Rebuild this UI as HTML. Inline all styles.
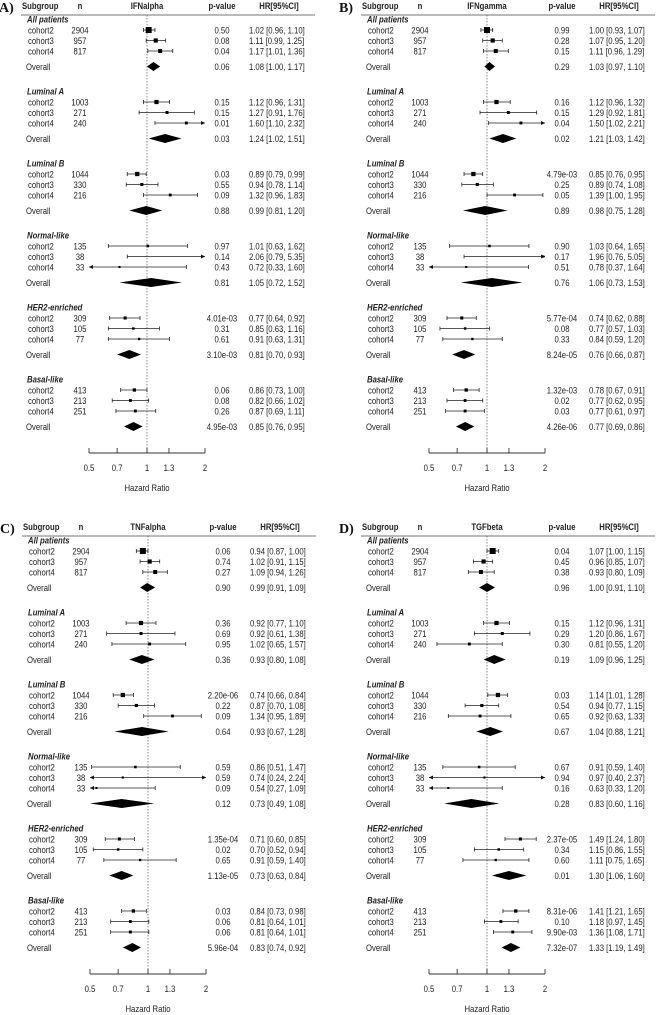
<!DOCTYPE html>
<html><head><meta charset="utf-8">
<style>
html,body{margin:0;padding:0;background:#fff;}
svg{display:block;font-family:"Liberation Sans",Arial,sans-serif;}
</style></head>
<body>
<svg id="fig" width="656" height="1015" viewBox="0 0 656 1015"></svg>
<script>
// shared data
const groups = ["All patients","Luminal A","Luminal B","Normal-like","HER2-enriched","Basal-like"];
const cohorts = ["cohort2","cohort3","cohort4"];
const nVals = [[2904,957,817],[1003,271,240],[1044,330,216],[135,38,33],[309,105,77],[413,213,251]];
const axisTicks = [0.5,0.7,1,1.3,2];
const axisTickLabels = ["0.5","0.7","1","1.3","2"];

// Panel A: IFNalpha (per group: cohort2, cohort3, cohort4, overall)
const hrA = [[1.02,1.11,1.17,1.08],[1.12,1.27,1.60,1.24],[0.89,0.94,1.32,0.99],[1.01,2.06,0.72,1.05],[0.77,0.85,0.91,0.81],[0.86,0.82,0.87,0.85]];
const loA = [[0.96,0.99,1.01,1.00],[0.96,0.91,1.10,1.02],[0.79,0.78,0.96,0.81],[0.63,0.79,0.33,0.72],[0.64,0.63,0.63,0.70],[0.73,0.66,0.69,0.76]];
const hiA = [[1.10,1.25,1.36,1.17],[1.31,1.76,2.32,1.51],[0.99,1.14,1.83,1.20],[1.62,5.35,1.60,1.52],[0.92,1.16,1.31,0.93],[1.00,1.02,1.11,0.95]];
const pA = [["0.50","0.08","0.04","0.06"],["0.15","0.15","0.01","0.03"],["0.03","0.55","0.09","0.88"],["0.97","0.14","0.43","0.81"],["4.01e-03","0.31","0.61","3.10e-03"],["0.06","0.08","0.26","4.95e-03"]];

// Panel B: IFNgamma
const hrB = [[1.00,1.07,1.11,1.03],[1.12,1.29,1.50,1.21],[0.85,0.89,1.39,0.98],[1.03,1.96,0.78,1.06],[0.74,0.77,0.84,0.76],[0.78,0.77,0.77,0.77]];
const loB = [[0.93,0.95,0.96,0.97],[0.96,0.92,1.02,1.03],[0.76,0.74,1.00,0.75],[0.64,0.76,0.37,0.73],[0.62,0.57,0.59,0.66],[0.67,0.62,0.61,0.69]];
const hiB = [[1.07,1.20,1.29,1.10],[1.32,1.81,2.21,1.42],[0.95,1.08,1.95,1.28],[1.65,5.05,1.64,1.53],[0.88,1.03,1.20,0.87],[0.91,0.95,0.97,0.86]];
const pB = [["0.99","0.28","0.15","0.29"],["0.16","0.15","0.04","0.02"],["4.79e-03","0.25","0.05","0.89"],["0.90","0.17","0.51","0.76"],["5.77e-04","0.08","0.33","8.24e-05"],["1.32e-03","0.02","0.03","4.26e-06"]];

// Panel C: TNFalpha
const hrC = [[0.94,1.02,1.09,0.99],[0.92,0.92,1.02,0.93],[0.74,0.87,1.34,0.93],[0.86,0.74,0.54,0.73],[0.71,0.70,0.91,0.73],[0.84,0.81,0.81,0.83]];
const loC = [[0.87,0.91,0.94,0.91],[0.77,0.61,0.65,0.80],[0.66,0.70,0.95,0.67],[0.51,0.24,0.27,0.49],[0.60,0.52,0.59,0.63],[0.73,0.64,0.64,0.74]];
const hiC = [[1.00,1.15,1.26,1.09],[1.10,1.38,1.57,1.08],[0.84,1.08,1.89,1.28],[1.47,2.24,1.09,1.08],[0.85,0.94,1.40,0.84],[0.98,1.01,1.01,0.92]];
const pC = [["0.06","0.74","0.27","0.90"],["0.36","0.69","0.95","0.36"],["2.20e-06","0.22","0.09","0.64"],["0.59","0.59","0.09","0.12"],["1.35e-04","0.02","0.65","1.13e-05"],["0.03","0.06","0.06","5.96e-04"]];

// Panel D: TGFbeta
const hrD = [[1.07,0.96,0.93,1.00],[1.12,1.20,0.81,1.09],[1.14,0.94,0.92,1.04],[0.91,0.97,0.63,0.83],[1.49,1.15,1.11,1.30],[1.41,1.18,1.36,1.33]];
const loD = [[1.00,0.85,0.80,0.91],[0.96,0.86,0.55,0.96],[1.01,0.77,0.63,0.88],[0.59,0.40,0.33,0.60],[1.24,0.86,0.75,1.06],[1.21,0.97,1.08,1.19]];
const hiD = [[1.15,1.07,1.09,1.10],[1.31,1.67,1.20,1.25],[1.28,1.15,1.33,1.21],[1.40,2.37,1.20,1.16],[1.80,1.55,1.65,1.60],[1.65,1.45,1.71,1.49]];
const pD = [["0.04","0.45","0.38","0.96"],["0.15","0.29","0.30","0.19"],["0.03","0.54","0.65","0.67"],["0.67","0.94","0.16","0.28"],["2.37e-05","0.34","0.60","0.01"],["8.31e-06","0.10","9.90e-03","7.32e-07"]];

const NS = "http://www.w3.org/2000/svg";
const svg = document.getElementById("fig");
const SQUEEZE = 0.84;
function mk(tag, attrs, parent){
  const e = document.createElementNS(NS, tag);
  for (const k in attrs) e.setAttribute(k, attrs[k]);
  (parent||svg).appendChild(e);
  return e;
}
function txt(parent, x, y, s, opts, noSqueeze){
  const t = mk("text", Object.assign({x:x, y:y, "font-size":9.2, fill:"#222"}, opts||{}), parent);
  t.textContent = s;
  if (!noSqueeze){
    const L = t.getComputedTextLength();
    if (L > 0){
      t.setAttribute("textLength", (L * SQUEEZE).toFixed(2));
      t.setAttribute("lengthAdjust", "spacingAndGlyphs");
    }
  }
  return t;
}
const XMIN = 0.5, XMAX = 2;
function xs(v){ return 147 + Math.log(v) * 83.7; }

function panel(label, title, hr, lo, hi, pv, dx, dy){
  const g = mk("g", {transform:"translate("+dx+","+dy+")"});
  
  
  const pl = txt(g, -1, 12, label, {"font-size":14, "font-weight":"bold", "font-family":"Liberation Serif, serif", fill:"#111"}, true);
  
  
  const hdr = [["Subgroup",22,"start"],["n",80,"middle"],[title,147,"middle"],["p-value",222,"middle"],["HR[95%CI]",279,"middle"]];
  hdr.forEach(h => {
    const t = txt(g, h[1], 9, h[0], {"font-weight":"bold","text-anchor":h[2]});
    
    
  });
  const hl = mk("line", {x1:21, x2:315, y1:15, y2:15, stroke:"#444", "stroke-width":0.8}, g);
  
  
  const ref = mk("line", {x1:xs(1), x2:xs(1), y1:15, y2:453, stroke:"#555", "stroke-width":0.7, "stroke-dasharray":"1.5,1.5"}, g);
  
  

  groups.forEach((gname, gi) => {
    const y0 = 19.5 + gi * 72;
    const gh = txt(g, 27, y0 + 3, gname, {"font-weight":"bold","font-style":"italic"});
    
    
    for (let r = 0; r < 4; r++){
      const y = r < 3 ? y0 + 10.5 + r * 10.5 : y0 + 47;
      const label = r < 3 ? cohorts[r] : "Overall";
      const lt = txt(g, r < 3 ? 28 : 26, y + 3.5, label);
      
      
      if (r < 3){
        const nt = txt(g, 80, y + 3.5, String(nVals[gi][r]), {"text-anchor":"middle"});
        
        
      }
      const ptx = txt(g, 222, y + 3.5, pv[gi][r], {"text-anchor":"middle"});
      
      
      const h = hr[gi][r], l = lo[gi][r], u = hi[gi][r];
      const ht = txt(g, 249, y + 3.5, h.toFixed(2) + " [" + l.toFixed(2) + ", " + u.toFixed(2) + "]");
      
      
      const x1 = xs(Math.max(l, XMIN)), x2 = xs(Math.min(u, XMAX)), xc = xs(h);
      if (r < 3){
        const ci = mk("line", {x1:x1, x2:x2, y1:y, y2:y, stroke:"#222", "stroke-width":0.8}, g);
        
        
        if (l >= XMIN){
          const c1 = mk("line", {x1:x1, x2:x1, y1:y-2, y2:y+2, stroke:"#222", "stroke-width":0.8}, g);
          
          
        } else {
          const a1 = mk("polygon", {points:(x1)+","+y+" "+(x1+4)+","+(y-2)+" "+(x1+4)+","+(y+2), fill:"#111"}, g);
          
          
        }
        if (u <= XMAX){
          const c2 = mk("line", {x1:x2, x2:x2, y1:y-2, y2:y+2, stroke:"#222", "stroke-width":0.8}, g);
          
          
        } else {
          const a2 = mk("polygon", {points:(x2)+","+y+" "+(x2-4)+","+(y-2)+" "+(x2-4)+","+(y+2), fill:"#111"}, g);
          
          
        }
        const s = Math.min(6, 1.6 + Math.sqrt(nVals[gi][r]) / 12);
        if (h >= XMIN && h <= XMAX){
          const sq = mk("rect", {x:xc - s/2, y:y - s/2, width:s, height:s, fill:"#000"}, g);
          
          
        }
      } else {
        const d = mk("polygon", {points:x1+","+y+" "+xc+","+(y-4.5)+" "+x2+","+y+" "+xc+","+(y+4.5), fill:"#000"}, g);
        
        
      }
    }
  });

  const ax = mk("line", {x1:xs(XMIN), x2:xs(XMAX), y1:453, y2:453, stroke:"#333", "stroke-width":0.9}, g);
  
  
  axisTicks.forEach((t, i) => {
    const tk = mk("line", {x1:xs(t), x2:xs(t), y1:448, y2:453, stroke:"#333", "stroke-width":0.9}, g);
    
    
    const tl = txt(g, xs(t), 471, axisTickLabels[i], {"text-anchor":"middle"});
    
    
  });
  const at = txt(g, xs(1), 491, "Hazard Ratio", {"text-anchor":"middle"});
  
  
}

panel("A)", "IFNalpha", hrA, loA, hiA, pA, 0, 0);
panel("B)", "IFNgamma", hrB, loB, hiB, pB, 340, 0);
panel("C)", "TNFalpha", hrC, loC, hiC, pC, 1, 521);
panel("D)", "TGFbeta", hrD, loD, hiD, pD, 340, 521);
</script>
</body></html>
